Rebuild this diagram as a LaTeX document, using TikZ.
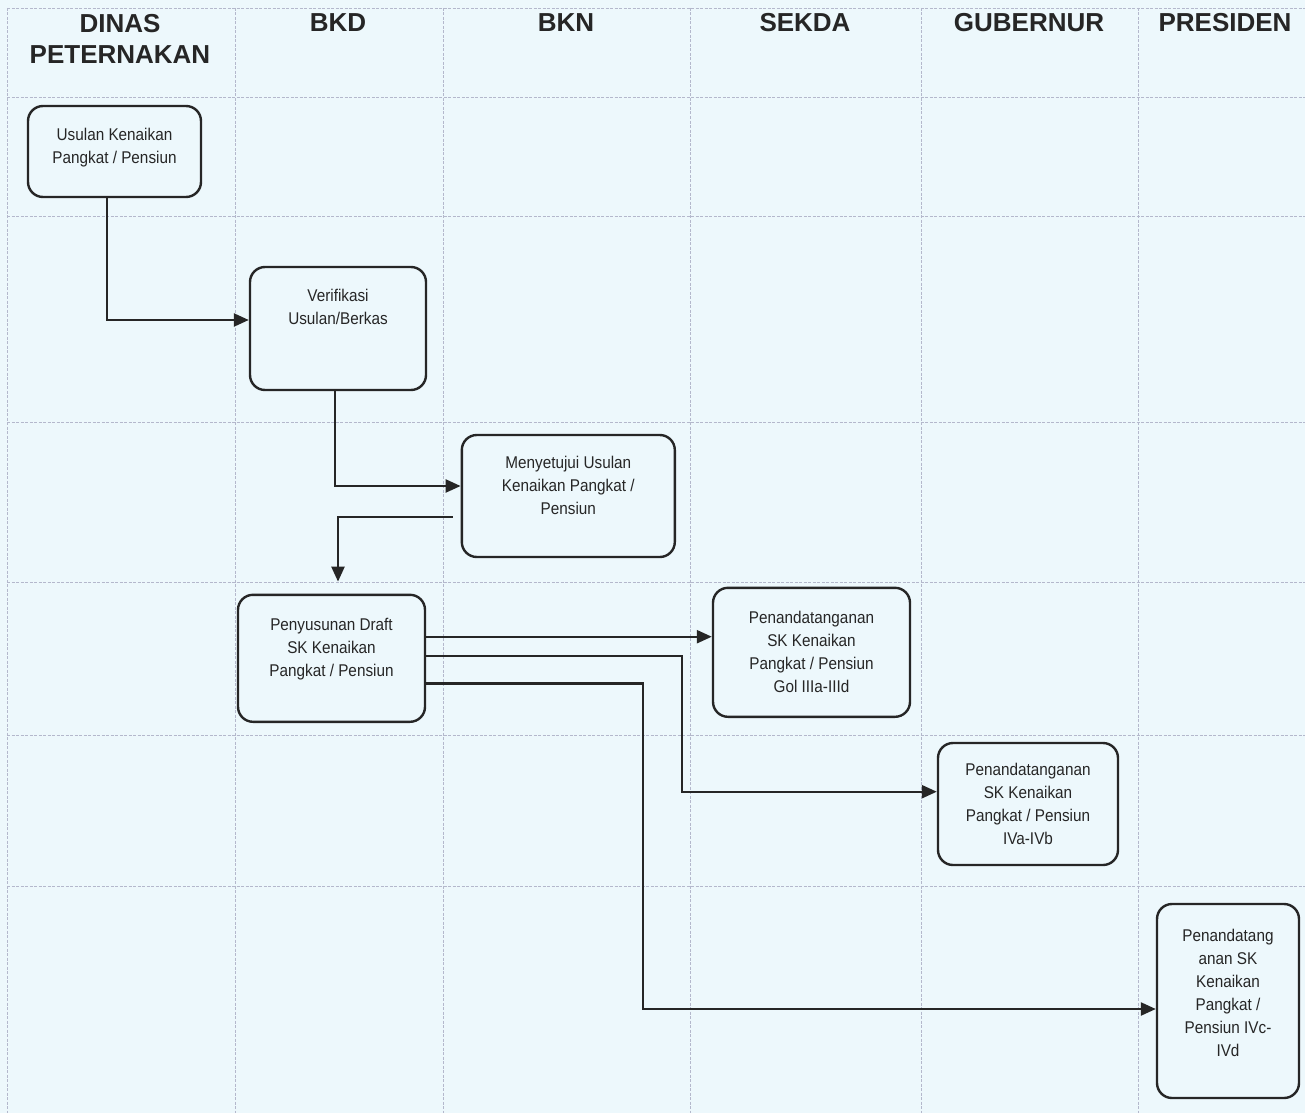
\documentclass[tikz,border=0pt]{standalone}
\usepackage{fontspec}
\setmainfont{Liberation Sans}
\newfontfamily\kotakfont{Liberation Sans}[FakeStretch=0.9]
\usetikzlibrary{arrows.meta}
\definecolor{latar}{HTML}{EDF8FC}
\definecolor{kisigaris}{HTML}{B4B8CC}
\definecolor{garis}{HTML}{262626}
\definecolor{teks}{HTML}{262626}
\tikzset{
  kisi/.style={draw=kisigaris,line width=0.8pt,dash pattern=on 3pt off 1.5pt},
  judul/.style={font=\fontsize{26}{31}\selectfont\bfseries,text=garis,align=center,anchor=base,inner sep=0pt},
  kotak/.style={draw=garis,line width=2.4pt,rounded corners=15pt,fill=latar,align=center,
    font=\kotakfont\fontsize{17}{23}\selectfont,text=teks,inner sep=2pt},
  sambung/.style={garis,line width=2.4pt},
  panah/.style={sambung,-{Triangle[length=15pt,width=13pt]}},
}

\begin{document}
\begin{tikzpicture}[x=1pt,y=-1pt]
  % latar dan kisi
  \fill[latar] (0,0) rectangle (1305,1113);
  \useasboundingbox (0,0) rectangle (1305,1113);
  \foreach \x in {7,235,443,690,921,1138} \draw[kisi] (\x,8) -- (\x,1113);
  \foreach \y in {8,97,216,422,582,735,886} \draw[kisi] (7,\y) -- (1305,\y);
  % judul kolom
  \node[judul] (dinas) at (120,64) {DINAS\\PETERNAKAN};
  \node[judul] (bkd) at (338,32) {BKD};
  \node[judul] (bkn) at (566,32) {BKN};
  \node[judul] (sekda) at (805,32) {SEKDA};
  \node[judul] (gubernur) at (1029,32) {GUBERNUR};
  \node[judul] (presiden) at (1225,32) {PRESIDEN};
  % kotak proses
  \node[kotak,minimum width=173pt,minimum height=91pt,text height=35pt,text depth=12pt] (usulan) at (114.5,151.5) {Usulan Kenaikan\\Pangkat / Pensiun};
  \node[kotak,minimum width=176pt,minimum height=123pt,text height=35pt,text depth=44pt] (verif) at (338,328.5) {Verifikasi\\Usulan/Berkas};
  \node[kotak,minimum width=213pt,minimum height=122pt,text height=58pt,text depth=22pt] (setuju) at (568.3,496) {Menyetujui Usulan\\Kenaikan Pangkat /\\Pensiun};
  \node[kotak,minimum width=187pt,minimum height=127pt,text height=58pt,text depth=22.6pt] (susun) at (331.5,658.3) {Penyusunan Draft\\SK Kenaikan\\Pangkat / Pensiun};
  \node[kotak,minimum width=197pt,minimum height=129pt,text height=81pt,text depth=0pt] (ttdsekda) at (811.5,652.3) {Penandatanganan\\SK Kenaikan\\Pangkat / Pensiun\\Gol IIIa-IIId};
  \node[kotak,minimum width=180pt,minimum height=122pt,text height=81pt,text depth=1pt] (ttdgub) at (1028,804) {Penandatanganan\\SK Kenaikan\\Pangkat / Pensiun\\IVa-IVb};
  \node[kotak,minimum width=142pt,minimum height=194pt,text height=127pt,text depth=17pt] (ttdpres) at (1228,1001) {Penandatang\\anan SK\\Kenaikan\\Pangkat /\\Pensiun IVc-\\IVd};
  % alur
  \draw[panah] ([xshift=-7.5pt]usulan.south) |- ([yshift=8.5pt]verif.west);
  \draw[panah] ([xshift=-3pt]verif.south) |- ([yshift=10pt]setuju.west);
  \draw[panah] ([xshift=-8pt,yshift=-20.7pt]setuju.west) -| ([xshift=6.5pt,yshift=12pt]susun.north);
  \draw[panah] ([yshift=21.6pt]susun.east) -- ([yshift=15.6pt]ttdsekda.west);
  \draw[panah] ([yshift=2.6pt]susun.east) -- ++(255.5,0) |- ([yshift=12.3pt]ttdgub.west);
  \draw[panah] ([yshift=-25pt]susun.east) -- ++(216.5,0) |- ([yshift=-8pt]ttdpres.west);
\end{tikzpicture}
\end{document}
